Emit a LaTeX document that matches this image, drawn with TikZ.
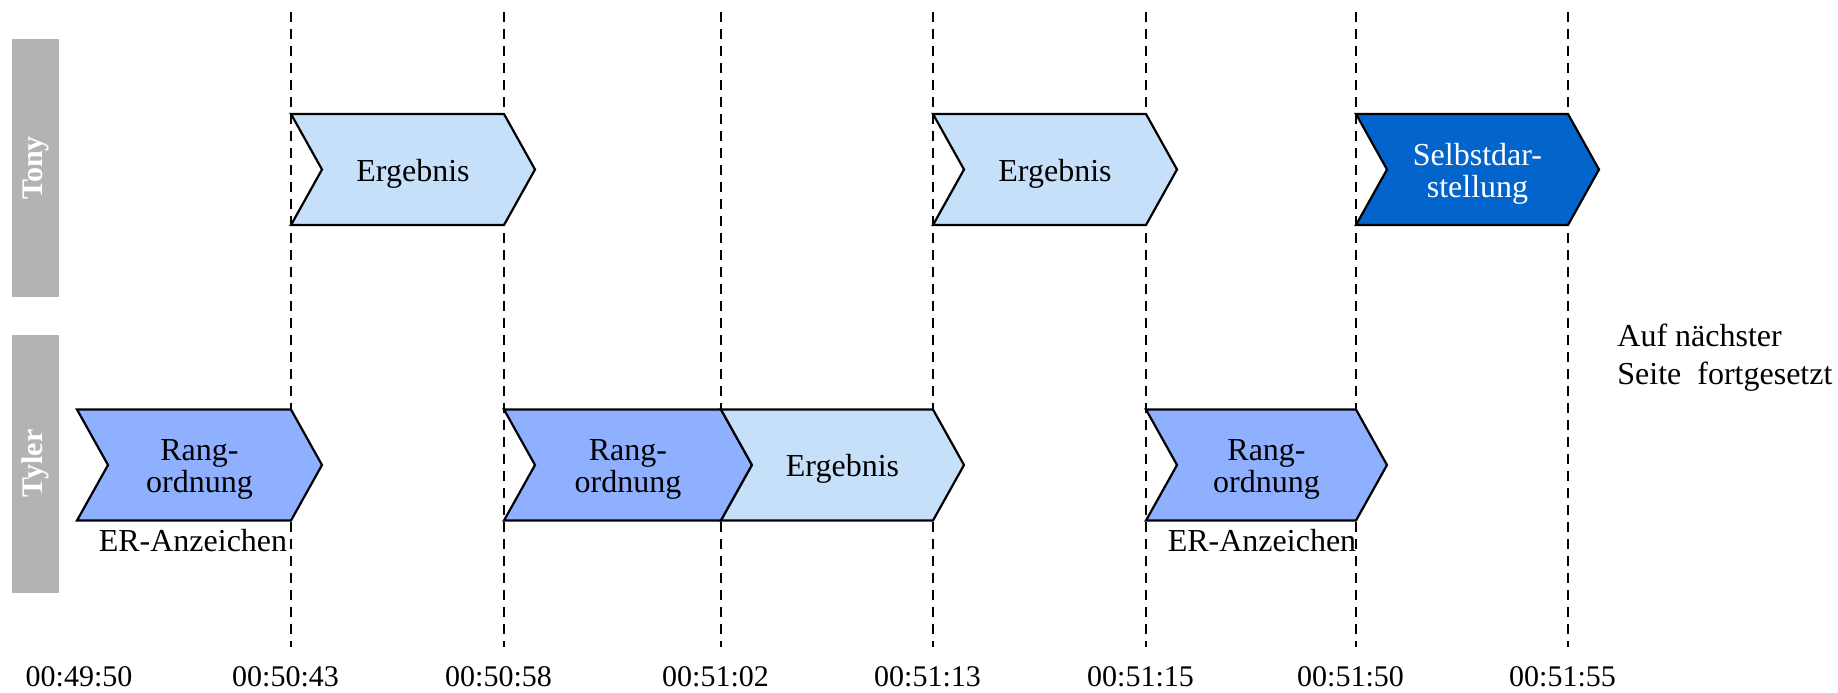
\documentclass[tikz,border=0pt]{standalone}
\usepackage{fontspec}
\setmainfont{Liberation Serif}
\definecolor{resultblue}{RGB}{198,224,250}
\definecolor{rankblue}{RGB}{143,175,255}
\definecolor{selfblue}{RGB}{3,101,204}
\definecolor{lanegray}{RGB}{179,179,179}
% chevron: #1 name, #2 left x, #3 right x, #4 centre y, #5 shape style, #6 text style, #7 text
\newcommand\chevron[7]{%
  \path[chevshape,#5] (#2,#4-55.5) -- (#3,#4-55.5) -- (#3+31,#4) -- (#3,#4+55.5)
       -- (#2,#4+55.5) -- (#2+31,#4) -- cycle;
  \node[chevtext,#6] (#1) at ({(#2+#3)/2+15.5},#4+4) {#7};}
\begin{document}
\begin{tikzpicture}[x=0.5pt,y=-0.5pt,
  guide/.style={black,line width=0.9pt,dash pattern=on 5pt off 3.5pt},
  chevshape/.style={draw=black,line width=1.1pt,line join=miter},
  result/.style={fill=resultblue},
  rank/.style={fill=rankblue},
  selfpres/.style={fill=selfblue},
  chevtext/.style={font=\fontsize{16}{16}\selectfont,align=center,inner sep=0pt},
  lanebar/.style={fill=lanegray,draw=none,inner sep=0pt,minimum width=23.5pt,minimum height=129pt},
  lanelabel/.style={font=\fontsize{15}{18}\selectfont\bfseries,text=white,rotate=90,inner sep=0pt},
  timelabel/.style={font=\fontsize{15}{18}\selectfont,inner sep=0pt},
  note/.style={font=\fontsize{16}{19}\selectfont,inner sep=0pt,align=left}]
\useasboundingbox (0,0) rectangle (1838,692);

% time grid
\foreach \n/\x in {1/291,2/504,3/721,4/933,5/1146,6/1356,7/1568}{
  \coordinate (top\n) at (\x,12);
  \coordinate (bot\n) at (\x,647);
  \draw[guide] (top\n) -- (bot\n);
}

% lanes
\node[lanebar] (tonybar) at (35.5,168) {};
\node[lanelabel] (tony) at (tonybar.center) {Tony};
\node[lanebar] (tylerbar) at (35.5,463.5) {};
\node[lanelabel] (tyler) at (tylerbar.center) {Tyler};

% Tony
\chevron{tonyA}{291}{504}{169.5}{result}{}{Ergebnis}
\chevron{tonyB}{933}{1146}{169.5}{result}{}{Ergebnis}
\chevron{tonyC}{1356}{1568}{169.5}{selfpres}{text=white}{Selbstdar-\\stellung}

% Tyler
\chevron{tylerA}{77}{291}{465}{rank}{}{Rang-\\ordnung}
\chevron{tylerB}{504}{721}{465}{rank}{}{Rang-\\ordnung}
\chevron{tylerC}{721}{933}{465}{result}{}{Ergebnis}
\chevron{tylerD}{1146}{1356}{465}{rank}{}{Rang-\\ordnung}

\node[chevtext] (erA) at (193,541) {ER-Anzeichen};
\node[chevtext] (erB) at (1262,541) {ER-Anzeichen};

% time stamps
\node[timelabel] (t0) at (79,677) {00:49:50};
\node[timelabel] (t1) at (285.5,677) {00:50:43};
\node[timelabel] (t2) at (498.5,677) {00:50:58};
\node[timelabel] (t3) at (715.5,677) {00:51:02};
\node[timelabel] (t4) at (927.5,677) {00:51:13};
\node[timelabel] (t5) at (1140.5,677) {00:51:15};
\node[timelabel] (t6) at (1350.5,677) {00:51:50};
\node[timelabel] (t7) at (1562.5,677) {00:51:55};

\node[note,anchor=west] (cont) at (1617,358) {Auf nächster\\Seite\ \ fortgesetzt};
\end{tikzpicture}
\end{document}
